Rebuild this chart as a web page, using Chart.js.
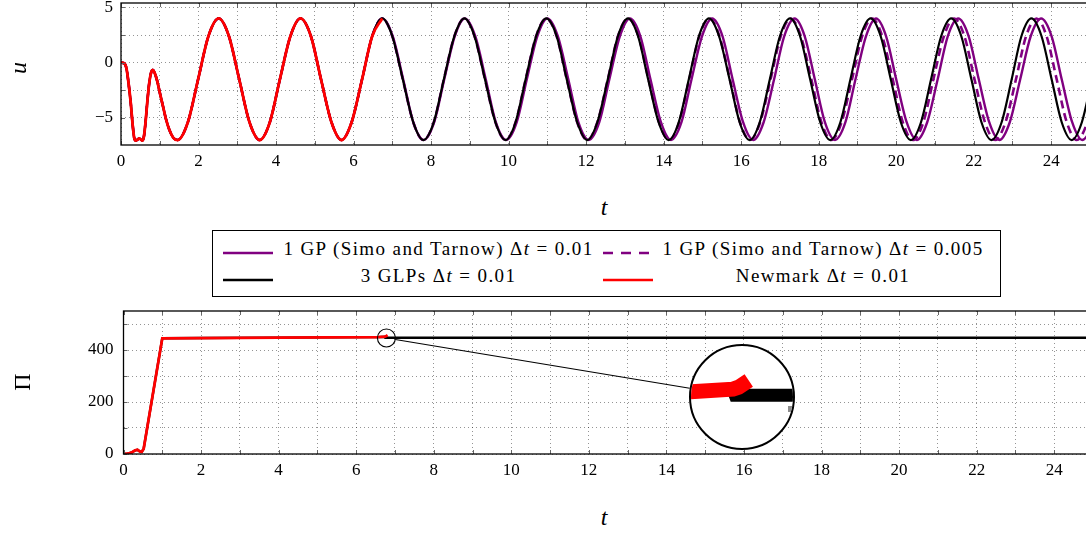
<!DOCTYPE html>
<html>
<head>
<meta charset="utf-8">
<script src="https://cdn.jsdelivr.net/npm/chart.js@4.4.1/dist/chart.umd.min.js"></script>
<style>
  html, body { margin: 0; padding: 0; background: #fff; overflow: hidden; }
  #wrap { position: relative; width: 1086px; height: 534px; overflow: hidden; font-family: 'Liberation Serif', serif; }
  canvas { position: absolute; left: 0; }
  .ttl { position: absolute; font-size: 24px; line-height: 30px; width: 30px; height: 30px; text-align: center; }
  #legend { position: absolute; left: 212px; top: 230px; width: 789px; height: 67px; border: 1px solid #000; box-sizing: border-box; }
  .lg-txt { position: absolute; font-size: 19px; letter-spacing: 1.4px; text-align: center; white-space: nowrap; line-height: 20px; }
  .lg-sym { position: absolute; }
  #spy { position: absolute; left: 689px; top: 344px; width: 106px; height: 106px; box-sizing: border-box;
         border: 2px solid #000; border-radius: 50%; overflow: hidden; background: #fff; }
  #spy canvas { position: absolute; left: 0; top: 0; }
</style>
</head>
<body>
<div id="wrap">
  <canvas id="uChart" width="1100" height="180" style="top:0;width:1100px;height:180px"></canvas>
  <div class="ttl" style="left:3px;top:53px;transform:rotate(-90deg)"><i>u</i></div>
  <div class="ttl" style="left:589px;top:192px"><i>t</i></div>

  <div id="legend"></div>

  <canvas id="piChart" width="1100" height="180" style="top:300px;width:1100px;height:180px"></canvas>
  <div class="ttl" style="left:7px;top:367px;transform:rotate(-90deg)">Π</div>
  <div class="ttl" style="left:589px;top:502px"><i>t</i></div>

  <div id="spy"><canvas id="spyChart" width="102" height="102" style="width:102px;height:102px"></canvas></div>
</div>

<script>
//================= Data =================//
// series names / time steps (legend)
var seriesNames = ['1 GP (Simo and Tarnow)', '1 GP (Simo and Tarnow)', '3 GLPs', 'Newmark'];
var seriesSteps = ['0.01', '0.005', '0.01', '0.01'];
var seriesColors = ['#800080', '#800080', '#000000', '#ff0000'];

// displacement u(t): common start (all schemes agree up to t ~ 6.7)
var tStart = [0, 0.08, 0.14, 0.2, 0.25, 0.3, 0.34, 0.38, 0.43, 0.47, 0.51, 0.55, 0.59, 0.63, 0.68, 0.73, 0.78, 0.82, 0.86, 0.93,
  1.0, 1.08, 1.16, 1.25, 1.35, 1.46,
  1.725, 1.99, 2.255, 2.52, 2.785, 3.05, 3.315, 3.58, 3.84, 4.1, 4.37, 4.63, 4.9, 5.16, 5.43, 5.69, 5.95, 6.22, 6.48, 6.74];
var uStart = [0, -0.05, -0.5, -2.0, -3.6, -5.6, -6.8, -7.05, -6.95, -6.85, -6.95, -7.05, -6.7, -5.5, -3.5, -1.8, -0.85, -0.65, -0.85, -1.6,
  -2.7, -3.9, -5.1, -6.1, -6.8, -7.0,
  -5.39, -1.5, 2.39, 4.0, 2.39, -1.5, -5.39, -7.0, -5.39, -1.5, 2.39, 4.0, 2.39, -1.5, -5.39, -7.0, -5.39, -1.5, 2.39, 4.0];

// u values after t ~ 6.74 (same levels for the three long runs)
var uTail = [
  2.39, -1.5, -5.39, -7, -5.39, -1.5, 2.39, 4,
  2.39, -1.5, -5.39, -7, -5.39, -1.5, 2.39, 4,
  2.39, -1.5, -5.39, -7, -5.39, -1.5, 2.39, 4,
  2.39, -1.5, -5.39, -7, -5.39, -1.5, 2.39, 4,
  2.39, -1.5, -5.39, -7, -5.39, -1.5, 2.39, 4,
  2.39, -1.5, -5.39, -7, -5.39, -1.5, 2.39, 4,
  2.39, -1.5, -5.39, -7, -5.39, -1.5, 2.39, 4,
  2.39, -1.5, -5.39, -7, -5.39, -1.5, 2.39, 4,
  2.39, -1.5, -5.39, -7, -5.39, -1.5];

// times for the tail of each run
var tGlpTail = [7.0, 7.27, 7.54, 7.80, 8.07, 8.33, 8.6, 8.86,
  9.12, 9.39, 9.66, 9.92, 10.18, 10.44, 10.71, 10.97,
  11.24, 11.5, 11.77, 12.03, 12.29, 12.56, 12.82, 13.08,
  13.34, 13.6, 13.87, 14.13, 14.39, 14.65, 14.91, 15.17,
  15.43, 15.7, 15.96, 16.22, 16.48, 16.74, 17.0, 17.26,
  17.52, 17.78, 18.04, 18.30, 18.56, 18.82, 19.08, 19.34,
  19.6, 19.86, 20.12, 20.38, 20.64, 20.9, 21.16, 21.42,
  21.68, 21.94, 22.2, 22.46, 22.72, 22.98, 23.23, 23.49,
  23.75, 24.01, 24.27, 24.53, 24.79, 25.05];
var tGpTail = [7.01, 7.28, 7.54, 7.81, 8.08, 8.34, 8.61, 8.87,
  9.14, 9.41, 9.67, 9.94, 10.21, 10.47, 10.74, 11.0,
  11.27, 11.54, 11.8, 12.07, 12.34, 12.6, 12.87, 13.13,
  13.4, 13.66, 13.93, 14.19, 14.46, 14.72, 14.99, 15.25,
  15.52, 15.78, 16.05, 16.31, 16.58, 16.85, 17.11, 17.38,
  17.64, 17.9, 18.16, 18.42, 18.69, 18.95, 19.22, 19.48,
  19.74, 20.0, 20.27, 20.53, 20.8, 21.07, 21.33, 21.6,
  21.87, 22.13, 22.4, 22.66, 22.93, 23.2, 23.47, 23.74,
  24.01, 24.27, 24.54, 24.8, 25.07, 25.33];
var tGpFineTail = [7.0, 7.27, 7.54, 7.80, 8.07, 8.33, 8.6, 8.86,
  9.12, 9.39, 9.66, 9.92, 10.18, 10.44, 10.71, 10.97,
  11.24, 11.5, 11.77, 12.03, 12.29, 12.56, 12.82, 13.08,
  13.35, 13.61, 13.88, 14.14, 14.4, 14.66, 14.92, 15.18,
  15.44, 15.71, 15.97, 16.23, 16.49, 16.76, 17.02, 17.28,
  17.54, 17.81, 18.07, 18.33, 18.59, 18.86, 19.12, 19.38,
  19.64, 19.91, 20.17, 20.43, 20.7, 20.96, 21.23, 21.49,
  21.76, 22.02, 22.29, 22.55, 22.82, 23.09, 23.35, 23.62,
  23.88, 24.14, 24.4, 24.66, 24.93, 25.2];

// energy-like quantity Pi(t)
var tPi = [0, 0.1, 0.2, 0.3, 0.36, 0.42, 0.47, 0.52, 1.0, 2.0, 4.0, 6.55, 6.74];
var piShared = [0, 1, 5, 14, 16, 10, 8, 20, 445, 446, 447.5, 449.4, 451.2];
var tPiNewmarkEnd = [6.765, 6.79, 6.81];
var piNewmarkEnd = [452.5, 455, 457];
var tPiGlpEnd = [6.75, 25];
var piGlpEnd = [447.1, 447.1];

// ticks / axes
var tMax = 25;
var uMin = -7.45, uMax = 5.4;
var piMax = 550;
var spyT = 6.78, spyPi = 446, spyZoom = 5.8;

//================= Helpers =================//
function pts(ts, vs) {
  return ts.map(function(t, i) { return {x: t, y: vs[i]}; });
}

var tickFont = {family: 'Liberation Serif', size: 17};
var gridStyle = {color: 'rgba(0,0,0,0.42)', lineWidth: 1, drawTicks: false};
var borderStyle = {display: false, dash: [1, 3]};

function noPad(s) {
  s.paddingTop = 0; s.paddingBottom = 0; s.paddingLeft = 0; s.paddingRight = 0;
}

// inner tick marks + frame, pgfplots style
var frameTicks = {
  id: 'frameTicks',
  afterDatasetsDraw: function(chart) {
    var ctx = chart.ctx, a = chart.chartArea;
    var xs = chart.scales.x, ys = chart.scales.y;
    ctx.save();
    ctx.strokeStyle = '#666';
    ctx.lineWidth = 1;
    ctx.beginPath();
    xs.ticks.forEach(function(tk) {
      var px = Math.round(xs.getPixelForValue(tk.value)) + 0.5;
      ctx.moveTo(px, a.bottom); ctx.lineTo(px, a.bottom - 4);
      ctx.moveTo(px, a.top); ctx.lineTo(px, a.top + 4);
    });
    ys.ticks.forEach(function(tk) {
      var py = Math.round(ys.getPixelForValue(tk.value)) + 0.5;
      ctx.moveTo(a.left, py); ctx.lineTo(a.left + 4, py);
      ctx.moveTo(a.right, py); ctx.lineTo(a.right - 4, py);
    });
    ctx.stroke();
    ctx.strokeStyle = '#000';
    ctx.lineWidth = 1.3;
    ctx.strokeRect(a.left, a.top, a.right - a.left, a.bottom - a.top);
    ctx.restore();
  }
};

function baseOptions(opts) {
  return {
    animation: false,
    responsive: false,
    devicePixelRatio: 1,
    layout: {padding: opts.padding},
    plugins: {legend: {display: false}, tooltip: {enabled: false}},
    scales: {
      x: {
        type: 'linear', min: 0, max: tMax,
        grid: gridStyle, border: borderStyle,
        ticks: {stepSize: 1, autoSkip: false, maxRotation: 0, padding: 6, color: '#000', font: tickFont,
          callback: function(v) { return v % 2 === 0 ? String(v) : ''; }},
        afterFit: function(s) { s.height = opts.xHeight; noPad(s); }
      },
      y: {
        type: 'linear', min: opts.yMin, max: opts.yMax,
        grid: gridStyle, border: borderStyle,
        ticks: {stepSize: opts.yStep, includeBounds: false, padding: opts.yPad, color: '#000', font: tickFont,
          callback: opts.yLabel},
        afterFit: function(s) { s.width = opts.yWidth; noPad(s); }
      }
    }
  };
}

//================= Displacement chart =================//
var newmarkU = pts(tStart, uStart);
var glpU = pts(tStart.concat(tGlpTail), uStart.concat(uTail));
var gpU = pts(tStart.concat(tGpTail), uStart.concat(uTail));
var gpFineU = pts(tStart.concat(tGpFineTail), uStart.concat(uTail));

function lineSet(data, color, width, dash, mode) {
  return {data: data, borderColor: color, borderWidth: width, borderDash: dash || [],
    pointRadius: 0, fill: false, cubicInterpolationMode: mode || 'monotone', tension: mode === 'straight' ? 0 : 0.4};
}

new Chart(document.getElementById('uChart'), {
  type: 'line',
  data: {datasets: [
    lineSet(newmarkU, seriesColors[3], 2.8),
    lineSet(glpU, seriesColors[2], 2.2),
    lineSet(gpFineU, seriesColors[1], 2.6, [8, 5]),
    lineSet(gpU, seriesColors[0], 2.4)
  ]},
  options: baseOptions({
    padding: {top: 3, right: 10, left: 0, bottom: 0},
    xHeight: 35, yWidth: 121, yMin: uMin, yMax: uMax, yStep: 2.5, yPad: 8,
    yLabel: function(v) { return v % 5 === 0 ? (v < 0 ? '\u2212' + (-v) : String(v)) : ''; }
  }),
  plugins: [frameTicks]
});

//================= Pi chart =================//
var newmarkPi = pts(tPi.concat(tPiNewmarkEnd), piShared.concat(piNewmarkEnd));
var glpPi = pts(tPi.concat(tPiGlpEnd), piShared.concat(piGlpEnd));

var spyLink = {
  id: 'spyLink',
  afterDraw: function(chart) {
    var ctx = chart.ctx;
    var cx = chart.scales.x.getPixelForValue(spyT);
    var cy = chart.scales.y.getPixelForValue(spyPi);
    var box = document.getElementById('spy');
    var R = box.offsetWidth / 2;
    var bx = box.offsetLeft + R, by = box.offsetTop + R - chart.canvas.offsetTop;
    var r = 9;
    var dx = bx - cx, dy = by - cy, d = Math.sqrt(dx * dx + dy * dy);
    ctx.save();
    ctx.strokeStyle = '#000';
    ctx.lineWidth = 1.1;
    ctx.beginPath();
    ctx.arc(cx, cy, r, 0, 2 * Math.PI);
    ctx.stroke();
    ctx.beginPath();
    ctx.moveTo(cx + dx / d * r, cy + dy / d * r);
    ctx.lineTo(bx - dx / d * R, by - dy / d * R);
    ctx.stroke();
    ctx.restore();
  }
};

var piChart = new Chart(document.getElementById('piChart'), {
  type: 'line',
  data: {datasets: [
    lineSet(newmarkPi, seriesColors[3], 2.8, null, 'straight'),
    lineSet(glpPi, seriesColors[2], 2.4, null, 'straight')
  ]},
  options: baseOptions({
    padding: {top: 11, right: 7, left: 0, bottom: 0},
    xHeight: 26, yWidth: 123.5, yMin: 0, yMax: piMax, yStep: 100, yPad: 10,
    yLabel: function(v) { return v % 200 === 0 ? String(v) : ''; }
  }),
  plugins: [frameTicks, spyLink]
});

//================= Magnified inset =================//
var pxT = piChart.scales.x.getPixelForValue(1) - piChart.scales.x.getPixelForValue(0);
var pxPi = piChart.scales.y.getPixelForValue(0) - piChart.scales.y.getPixelForValue(1);
var halfT = 51 / (spyZoom * pxT), halfPi = 51 / (spyZoom * pxPi);

new Chart(document.getElementById('spyChart'), {
  type: 'line',
  data: {datasets: [
    lineSet(pts(tPi.concat(tPiNewmarkEnd), piShared.concat(piNewmarkEnd)), seriesColors[3], 15, null, 'straight'),
    lineSet(pts(tPi.concat(tPiGlpEnd), piShared.concat(piGlpEnd)), seriesColors[2], 13, null, 'straight')
  ]},
  options: {
    animation: false, responsive: false, devicePixelRatio: 1,
    layout: {padding: 0},
    plugins: {legend: {display: false}, tooltip: {enabled: false}},
    scales: {
      x: {type: 'linear', min: spyT - halfT, max: spyT + halfT,
        ticks: {display: false, stepSize: 0.5, includeBounds: false},
        grid: {color: '#8c8c8c', lineWidth: 6, drawTicks: false},
        border: {display: false, dash: [6, 300], dashOffset: -60},
        afterFit: function(s) { s.height = 0; noPad(s); }},
      y: {type: 'linear', display: false, min: spyPi - halfPi, max: spyPi + halfPi}
    }
  }
});

//================= Legend =================//
var legend = document.getElementById('legend');
var cells = [
  {i: 0, sym: 10, txt: 66, w: 319, row: 0},
  {i: 1, sym: 390, txt: 444, w: 332, row: 0},
  {i: 2, sym: 10, txt: 66, w: 319, row: 1},
  {i: 3, sym: 390, txt: 444, w: 332, row: 1}
];
var rowY = [18, 45];
cells.forEach(function(c) {
  var dash = c.i === 1 ? ' stroke-dasharray="10,8"' : '';
  var sym = document.createElement('div');
  sym.className = 'lg-sym';
  sym.style.left = c.sym + 'px';
  sym.style.top = (rowY[c.row] - 5) + 'px';
  sym.innerHTML = '<svg width="50" height="10"><line x1="0" y1="5" x2="50" y2="5" stroke="' + seriesColors[c.i] +
    '" stroke-width="2.6"' + dash + '/></svg>';
  legend.appendChild(sym);
  var txt = document.createElement('div');
  txt.className = 'lg-txt';
  txt.style.left = c.txt + 'px';
  txt.style.width = c.w + 'px';
  txt.style.top = (rowY[c.row] - 10) + 'px';
  txt.innerHTML = seriesNames[c.i] + ' \u0394<i>t</i> = ' + seriesSteps[c.i];
  legend.appendChild(txt);
});
</script>
</body>
</html>
